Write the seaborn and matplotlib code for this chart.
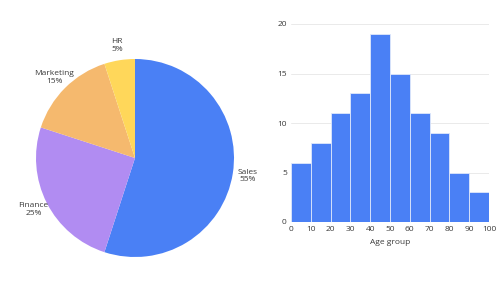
import matplotlib
matplotlib.use("Agg")
import matplotlib.pyplot as plt
import seaborn as sns
import numpy as np

# pie data
departments = ["Sales", "Finance", "Marketing", "HR"]
shares = [55, 25, 15, 5]
pie_colors = ["#4A80F5", "#B18CF2", "#F5B96E", "#FFD75A"]

# histogram data
age_edges = [0, 10, 20, 30, 40, 50, 60, 70, 80, 90, 100]
age_counts = [6, 8, 11, 13, 19, 15, 11, 9, 5, 3]

sns.set_theme(style="white")
plt.rcParams["font.family"] = ["Open Sans", "DejaVu Sans"]
text_color = "#3a3a3a"

fig = plt.figure(figsize=(5, 2.82), dpi=100)

# pie on the left
ax1 = fig.add_axes([36 / 500, 25 / 282, 198 / 500, 198 / 282])
labels = [f"{d}\n{s}%" for d, s in zip(departments, shares)]
wedges, texts = ax1.pie(shares, labels=labels, colors=pie_colors,
                        startangle=90, counterclock=False,
                        labeldistance=1.15,
                        wedgeprops={"linewidth": 0, "edgecolor": "none"},
                        textprops={"fontsize": 6, "color": text_color})
for t in texts:
    t.set_ha("center")
    t.set_va("center")
    t.set_linespacing(1.1)
ax1.set_xlim(-1, 1)
ax1.set_ylim(-1, 1)

# histogram on the right
ax2 = fig.add_axes([291 / 500, 60 / 282, 198 / 500, 198 / 282])
mids = [(a + b) / 2 for a, b in zip(age_edges[:-1], age_edges[1:])]
sns.histplot(x=mids, weights=age_counts, bins=age_edges, ax=ax2,
             color="#4A80F5", edgecolor="#dfe8fb", linewidth=0.6, alpha=1)
ax2.set_xlim(0, 100)
ax2.set_ylim(0, 20)
ax2.set_xticks(age_edges)
ax2.set_yticks([0, 5, 10, 15, 20])
ax2.yaxis.grid(True, color="#e6e6e6", linewidth=0.6)
ax2.set_axisbelow(True)
for s in ax2.spines.values():
    s.set_visible(False)
ax2.tick_params(axis="both", length=0, labelsize=6, colors=text_color, pad=3)
ax2.set_xlabel("Age group", fontsize=6, color=text_color, labelpad=4)
ax2.set_ylabel("")

fig.savefig("out.png", dpi=100)
